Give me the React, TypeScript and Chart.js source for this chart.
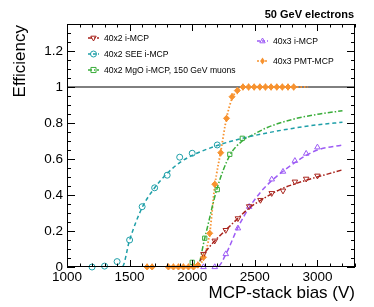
import React, { useEffect, useRef } from 'react';
import { Chart, registerables } from 'chart.js';
Chart.register(...registerables);

// ---- data ----
const redX = [2090, 2180, 2268, 2365, 2455, 2545, 2635, 2725, 2820, 2910, 3000];
const redY = [0.072, 0.146, 0.205, 0.27, 0.337, 0.372, 0.41, 0.424, 0.474, 0.49, 0.507];
const redFitX = [1000, 2030, 2090, 2180, 2270, 2365, 2455, 2545, 2700, 2900, 3100, 3200];
const redFitY = [0, 0, 0.07, 0.145, 0.207, 0.27, 0.328, 0.37, 0.43, 0.48, 0.52, 0.54];

const cyanX = [1200, 1300, 1400, 1500, 1600, 1700, 1800, 1900, 2000, 2200];
const cyanY = [0, 0.005, 0.03, 0.15, 0.335, 0.44, 0.51, 0.61, 0.632, 0.678];
const cyanFitX = [1000, 1440, 1500, 1600, 1700, 1800, 1900, 2000, 2200, 2400, 2600, 2800, 3000, 3200];
const cyanFitY = [0, 0, 0.15, 0.33, 0.44, 0.52, 0.58, 0.62, 0.675, 0.715, 0.745, 0.77, 0.79, 0.804];

const greenX = [2000, 2100, 2200, 2300, 2400];
const greenY = [0.026, 0.16, 0.43, 0.626, 0.715];
const greenFitX = [1000, 2040, 2100, 2200, 2300, 2400, 2500, 2600, 2800, 3000, 3200];
const greenFitY = [0, 0, 0.16, 0.44, 0.62, 0.7, 0.74, 0.775, 0.82, 0.848, 0.868];

const purpleX = [2090, 2180, 2268, 2365, 2455, 2635, 2725, 2820, 2910, 3000];
const purpleY = [0, 0, 0.072, 0.215, 0.335, 0.487, 0.53, 0.59, 0.63, 0.665];
const purpleFitX = [1000, 2200, 2268, 2365, 2455, 2545, 2635, 2725, 2820, 2910, 3000, 3200];
const purpleFitY = [0, 0, 0.07, 0.22, 0.33, 0.415, 0.48, 0.532, 0.58, 0.62, 0.65, 0.678];

const orangeX = [1640, 1680, 1810, 1850, 1890, 1930, 1970, 2010, 2045, 2090, 2140, 2180, 2228, 2274, 2318, 2360, 2405, 2450, 2495, 2540, 2585, 2630, 2675, 2720, 2765, 2810];
const orangeY = [0, 0, 0, 0, 0, 0, 0, 0, 0.01, 0.054, 0.187, 0.46, 0.635, 0.826, 0.946, 0.98, 1, 1, 1, 1, 1, 1, 1, 1, 1, 1];
const orangeErr = [0.02, 0.02, 0.02, 0.02, 0.02, 0.02, 0.02, 0.02, 0.02, 0.02, 0.02, 0.02, 0.02, 0.02, 0.02, 0.02, 0.02, 0.02, 0.02, 0.02, 0.02, 0.02, 0.02, 0.02, 0.02, 0.02];
const orangeFitX = [1000, 2040, 2090, 2140, 2180, 2230, 2275, 2320, 2360, 2400, 2925];
const orangeFitY = [0, 0, 0.05, 0.19, 0.45, 0.65, 0.83, 0.94, 0.98, 1, 1];

const unityX = [1000, 3300];
const unityY = [1, 1];

const xTickValues = [1000, 1500, 2000, 2500, 3000];
const yTickValues = [0, 0.2, 0.4, 0.6, 0.8, 1.0, 1.2];

const RED = '#a8231c';
const CYAN = '#1e9fa8';
const GREEN = '#3aad3a';
const PURPLE = '#9d5cf5';
const ORANGE = '#f7922f';

const FONT = '"Liberation Sans", Arial, Helvetica, sans-serif';

const pts = (xs: number[], ys: number[]) => xs.map((x, i) => ({ x, y: ys[i] }));

type MarkerKind = 'circle' | 'square' | 'triup' | 'tridown' | 'diamond';

function drawMarker(ctx: CanvasRenderingContext2D, kind: MarkerKind, x: number, y: number, r: number, color: string) {
  ctx.save();
  ctx.setLineDash([]);
  ctx.strokeStyle = color;
  ctx.fillStyle = color;
  ctx.lineWidth = 1;
  ctx.beginPath();
  if (kind === 'circle') {
    ctx.arc(x, y, r, 0, Math.PI * 2);
    ctx.stroke();
  } else if (kind === 'square') {
    ctx.rect(x - r * 0.85, y - r * 0.85, r * 1.7, r * 1.7);
    ctx.stroke();
  } else if (kind === 'triup') {
    ctx.moveTo(x, y - r);
    ctx.lineTo(x + r * 0.9, y + r * 0.6);
    ctx.lineTo(x - r * 0.9, y + r * 0.6);
    ctx.closePath();
    ctx.stroke();
  } else if (kind === 'tridown') {
    ctx.moveTo(x, y + r);
    ctx.lineTo(x + r * 0.9, y - r * 0.6);
    ctx.lineTo(x - r * 0.9, y - r * 0.6);
    ctx.closePath();
    ctx.stroke();
  } else {
    ctx.moveTo(x, y - r * 1.2);
    ctx.lineTo(x + r * 0.8, y);
    ctx.lineTo(x, y + r * 1.2);
    ctx.lineTo(x - r * 0.8, y);
    ctx.closePath();
    ctx.fill();
  }
  ctx.restore();
}

const legendEntries: { label: string; color: string; kind: MarkerKind; dash: number[]; x: number; y: number }[] = [
  { label: '40x2 i-MCP', color: RED, kind: 'tridown', dash: [4, 2, 1, 2], x: 88, y: 38 },
  { label: '40x2 SEE i-MCP', color: CYAN, kind: 'circle', dash: [3, 2], x: 88, y: 54 },
  { label: '40x2 MgO i-MCP, 150 GeV muons', color: GREEN, kind: 'square', dash: [4, 2, 1, 2], x: 88, y: 70 },
  { label: '40x3 i-MCP', color: PURPLE, kind: 'triup', dash: [3, 2], x: 257, y: 41 },
  { label: '40x3 PMT-MCP', color: ORANGE, kind: 'diamond', dash: [2, 2], x: 257, y: 61 },
];

const decorPlugin = {
  id: 'decor',
  afterDatasetsDraw(chart: any) {
    const ctx: CanvasRenderingContext2D = chart.ctx;
    const xs = chart.scales.x;
    const ys = chart.scales.y;
    // error bars on PMT-MCP points
    ctx.save();
    ctx.strokeStyle = ORANGE;
    ctx.lineWidth = 1.2;
    orangeX.forEach((xv, i) => {
      const px = xs.getPixelForValue(xv);
      const y1 = ys.getPixelForValue(orangeY[i] + orangeErr[i]);
      const y2 = ys.getPixelForValue(Math.max(orangeY[i] - orangeErr[i], 0));
      ctx.beginPath();
      ctx.moveTo(px, y1);
      ctx.lineTo(px, y2);
      ctx.stroke();
    });
    ctx.restore();
  },
  afterDraw(chart: any) {
    const ctx: CanvasRenderingContext2D = chart.ctx;
    const { left, right, top, bottom } = chart.chartArea;
    const xs = chart.scales.x;
    const ys = chart.scales.y;
    ctx.save();
    ctx.setLineDash([]);
    ctx.strokeStyle = '#000';
    ctx.lineWidth = 1;
    ctx.strokeRect(left + 0.5, top + 0.5, right - left - 1, bottom - top - 1);
    // x ticks (bottom & top)
    for (let v = 1000; v <= 3300; v += 100) {
      const px = Math.round(xs.getPixelForValue(v)) + 0.5;
      const len = v % 500 === 0 ? 7 : 3.5;
      ctx.beginPath();
      ctx.moveTo(px, bottom);
      ctx.lineTo(px, bottom - len);
      ctx.moveTo(px, top);
      ctx.lineTo(px, top + len);
      ctx.stroke();
    }
    // y ticks (left & right)
    for (let i = 0; i <= 27; i++) {
      const v = i * 0.05;
      const py = Math.round(ys.getPixelForValue(v)) + 0.5;
      const len = i % 4 === 0 ? 8 : 4;
      ctx.beginPath();
      ctx.moveTo(left, py);
      ctx.lineTo(left + len, py);
      ctx.moveTo(right, py);
      ctx.lineTo(right - len, py);
      ctx.stroke();
    }
    // legend
    legendEntries.forEach((e) => {
      ctx.save();
      ctx.strokeStyle = e.color;
      ctx.lineWidth = 1.4;
      ctx.setLineDash(e.dash);
      ctx.beginPath();
      ctx.moveTo(e.x, e.y);
      ctx.lineTo(e.x + 11, e.y);
      ctx.stroke();
      ctx.restore();
      drawMarker(ctx, e.kind, e.x + 5.5, e.y, 3, e.color);
      ctx.fillStyle = '#000';
      ctx.font = `8.6px ${FONT}`;
      ctx.textAlign = 'left';
      ctx.textBaseline = 'middle';
      ctx.fillText(e.label, e.x + 16, e.y + 0.5);
    });
    // title
    ctx.fillStyle = '#000';
    ctx.font = `bold 11px ${FONT}`;
    ctx.textAlign = 'right';
    ctx.textBaseline = 'middle';
    ctx.fillText('50 GeV electrons', 354, 15);
    // axis titles
    ctx.font = `17px ${FONT}`;
    ctx.textAlign = 'right';
    ctx.textBaseline = 'alphabetic';
    ctx.fillText('MCP-stack bias (V)', 355, 298);
    ctx.save();
    ctx.translate(25, 25);
    ctx.rotate(-Math.PI / 2);
    ctx.textAlign = 'right';
    ctx.textBaseline = 'alphabetic';
    ctx.fillText('Efficiency', 0, 0);
    ctx.restore();
    ctx.restore();
  },
};

export default function App() {
  const ref = useRef<HTMLCanvasElement>(null);
  useEffect(() => {
    if (!ref.current) return;
    const fit = (xs: number[], ys: number[], color: string, dash: number[], width = 1.5) => ({
      type: 'line' as const,
      data: pts(xs, ys),
      showLine: true,
      borderColor: color,
      borderWidth: width,
      borderDash: dash,
      pointRadius: 0,
      cubicInterpolationMode: 'monotone' as const,
      fill: false,
      order: 2,
    });
    const mark = (xs: number[], ys: number[], color: string, style: string, rotation = 0, filled = false, r = 3.2) => ({
      type: 'scatter' as const,
      data: pts(xs, ys),
      showLine: false,
      pointStyle: style,
      pointRotation: rotation,
      pointRadius: r,
      pointBorderWidth: 1,
      borderColor: color,
      backgroundColor: filled ? color : 'rgba(0,0,0,0)',
      pointBackgroundColor: filled ? color : 'rgba(0,0,0,0)',
      pointBorderColor: color,
      clip: 8,
      order: 0,
    });
    const chart = new Chart(ref.current, {
      type: 'scatter',
      data: {
        datasets: [
          { ...fit(unityX, unityY, '#000', [], 1), cubicInterpolationMode: 'default' as const, order: 3 },
          fit(redFitX, redFitY, RED, [5, 2, 1.5, 2]),
          fit(cyanFitX, cyanFitY, CYAN, [4, 3]),
          fit(greenFitX, greenFitY, GREEN, [5, 2, 1.5, 2]),
          fit(purpleFitX, purpleFitY, PURPLE, [5, 3]),
          fit(orangeFitX, orangeFitY, ORANGE, [1.5, 2], 1.8),
          mark(redX, redY, RED, 'triangle', 180),
          mark(cyanX, cyanY, CYAN, 'circle', 0, false, 3),
          mark(greenX, greenY, GREEN, 'rect', 0, false, 3),
          mark(purpleX, purpleY, PURPLE, 'triangle'),
          mark(orangeX, orangeY, ORANGE, 'rectRot', 0, true, 3),
        ] as any,
      },
      options: {
        responsive: false,
        animation: false,
        events: [],
        layout: { padding: { left: 0, top: 24, right: 19, bottom: 0 } },
        plugins: { legend: { display: false }, tooltip: { enabled: false } },
        scales: {
          x: {
            type: 'linear',
            min: 1000,
            max: 3300,
            grid: { display: false, drawTicks: false },
            border: { display: false },
            afterBuildTicks: (s: any) => {
              s.ticks = xTickValues.map((v) => ({ value: v }));
            },
            afterFit: (s: any) => {
              s.height = 40;
            },
            ticks: {
              padding: 2,
              maxRotation: 0,
              autoSkip: false,
              color: '#000',
              font: { family: FONT, size: 13.5 },
              callback: (v: any) => String(v),
            },
          },
          y: {
            type: 'linear',
            min: 0,
            max: 1.35,
            grid: { display: false, drawTicks: false },
            border: { display: false },
            afterBuildTicks: (s: any) => {
              s.ticks = yTickValues.map((v) => ({ value: v }));
            },
            afterFit: (s: any) => {
              s.width = 67;
            },
            ticks: {
              padding: 4,
              autoSkip: false,
              color: '#000',
              font: { family: FONT, size: 13.5 },
              callback: (v: any) => String(+Number(v).toFixed(1)),
            },
          },
        },
      } as any,
      plugins: [decorPlugin],
    });
    return () => chart.destroy();
  }, []);
  return (
    <div style={{ position: 'absolute', left: 0, top: 0, width: 374, height: 307, background: '#fff' }}>
      <canvas ref={ref} width={374} height={307} style={{ display: 'block' }} />
    </div>
  );
}
